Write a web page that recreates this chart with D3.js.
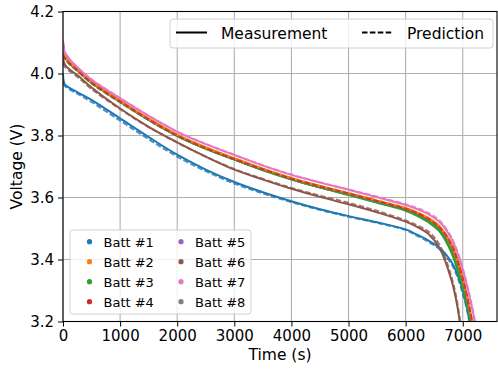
<!DOCTYPE html>
<html>
<head>
<meta charset="utf-8">
<script src="https://cdn.jsdelivr.net/npm/d3@7"></script>
<style>
  body { margin: 0; background: #fff; }
  svg { font-family: "DejaVu Sans", sans-serif; }
</style>
</head>
<body>
<div id="chart"></div>
<script>
'use strict'

/****** DATA ******/

const times = [0, 30, 100, 250, 500, 1000, 1500, 2000, 2500, 3000, 3500, 4000, 4500,
               5000, 5500, 6000, 6200, 6400, 6600, 6800, 6900, 7000, 7100, 7200, 7300]

const battLabels = ['Batt #1', 'Batt #2', 'Batt #3', 'Batt #4', 'Batt #5', 'Batt #6', 'Batt #7', 'Batt #8']
const battColors = ['#1f77b4', '#ff7f0e', '#2ca02c', '#d62728', '#9467bd', '#8c564b', '#e377c2', '#7f7f7f']

const xTicks = [0, 1000, 2000, 3000, 4000, 5000, 6000, 7000]
const yTicks = [3.2, 3.4, 3.6, 3.8, 4.0, 4.2]

// measured voltage (V)
const batt1Meas = [4.00, 3.965, 3.955, 3.94, 3.915, 3.855, 3.795, 3.738, 3.69, 3.65, 3.617, 3.588, 3.562, 3.54, 3.52, 3.497, 3.48, 3.461, 3.437, 3.393, 3.355, 3.30, 3.225, 3.10, 2.95]
const batt2Meas = [4.11, 4.06, 4.04, 4.015, 3.975, 3.913, 3.855, 3.803, 3.762, 3.727, 3.693, 3.663, 3.637, 3.614, 3.59, 3.566, 3.552, 3.534, 3.506, 3.452, 3.405, 3.343, 3.262, 3.165, 3.03]
const batt3Meas = [4.10, 4.055, 4.035, 4.01, 3.97, 3.908, 3.85, 3.798, 3.757, 3.722, 3.688, 3.658, 3.632, 3.608, 3.583, 3.557, 3.541, 3.52, 3.489, 3.423, 3.37, 3.305, 3.22, 3.11, 2.95]
const batt4Meas = [4.105, 4.058, 4.038, 4.013, 3.973, 3.911, 3.853, 3.801, 3.76, 3.725, 3.691, 3.661, 3.635, 3.612, 3.588, 3.563, 3.549, 3.53, 3.501, 3.446, 3.398, 3.335, 3.255, 3.155, 3.02]
const batt5Meas = [4.10, 4.056, 4.036, 4.011, 3.971, 3.909, 3.851, 3.799, 3.758, 3.723, 3.689, 3.659, 3.633, 3.61, 3.585, 3.56, 3.545, 3.525, 3.495, 3.435, 3.385, 3.322, 3.24, 3.135, 2.98]
const batt6Meas = [4.05, 4.03, 4.015, 3.995, 3.955, 3.887, 3.828, 3.778, 3.732, 3.69, 3.658, 3.628, 3.602, 3.578, 3.552, 3.522, 3.505, 3.482, 3.435, 3.335, 3.255, 3.13, 3.0, 2.88, 2.76]
const batt7Meas = [4.10, 4.07, 4.05, 4.02, 3.98, 3.92, 3.863, 3.812, 3.772, 3.737, 3.703, 3.673, 3.648, 3.625, 3.601, 3.576, 3.563, 3.546, 3.52, 3.468, 3.425, 3.368, 3.295, 3.21, 3.08]
const batt8Meas = [4.10, 4.056, 4.036, 4.011, 3.971, 3.909, 3.851, 3.799, 3.758, 3.723, 3.689, 3.659, 3.633, 3.61, 3.585, 3.56, 3.545, 3.525, 3.495, 3.435, 3.385, 3.322, 3.24, 3.135, 2.98]

// predicted voltage (V)
const batt1Pred = [3.965, 3.96, 3.95, 3.935, 3.908, 3.848, 3.788, 3.732, 3.685, 3.645, 3.613, 3.585, 3.56, 3.538, 3.518, 3.495, 3.477, 3.457, 3.432, 3.386, 3.347, 3.29, 3.215, 3.09, 2.94]
const batt2Pred = [4.07, 4.055, 4.038, 4.012, 3.972, 3.91, 3.853, 3.802, 3.761, 3.726, 3.693, 3.663, 3.638, 3.615, 3.591, 3.566, 3.551, 3.532, 3.503, 3.447, 3.398, 3.335, 3.255, 3.155, 3.02]
const batt3Pred = [4.06, 4.05, 4.033, 4.008, 3.968, 3.907, 3.85, 3.799, 3.758, 3.723, 3.69, 3.66, 3.634, 3.611, 3.586, 3.56, 3.545, 3.525, 3.495, 3.432, 3.38, 3.317, 3.235, 3.125, 2.97]
const batt4Pred = [4.06, 4.05, 4.036, 4.011, 3.971, 3.91, 3.852, 3.8, 3.759, 3.724, 3.691, 3.661, 3.636, 3.613, 3.589, 3.564, 3.55, 3.531, 3.503, 3.45, 3.402, 3.34, 3.26, 3.165, 3.03]
const batt5Pred = [4.06, 4.05, 4.034, 4.009, 3.969, 3.908, 3.85, 3.799, 3.758, 3.723, 3.69, 3.66, 3.634, 3.611, 3.586, 3.561, 3.546, 3.526, 3.496, 3.436, 3.386, 3.323, 3.242, 3.138, 2.98]
const batt6Pred = [4.03, 4.022, 4.01, 3.99, 3.95, 3.885, 3.827, 3.777, 3.732, 3.692, 3.66, 3.631, 3.606, 3.583, 3.557, 3.526, 3.51, 3.49, 3.445, 3.345, 3.265, 3.14, 3.01, 2.89, 2.77]
const batt7Pred = [4.075, 4.065, 4.048, 4.02, 3.981, 3.921, 3.864, 3.813, 3.773, 3.738, 3.704, 3.674, 3.649, 3.626, 3.603, 3.578, 3.566, 3.55, 3.525, 3.473, 3.43, 3.373, 3.3, 3.215, 3.09]
const batt8Pred = [4.06, 4.05, 4.034, 4.009, 3.969, 3.908, 3.85, 3.799, 3.758, 3.723, 3.69, 3.66, 3.634, 3.611, 3.586, 3.561, 3.546, 3.526, 3.496, 3.436, 3.386, 3.323, 3.242, 3.138, 2.98]

const measured = [batt1Meas, batt2Meas, batt3Meas, batt4Meas, batt5Meas, batt6Meas, batt7Meas, batt8Meas]
const predicted = [batt1Pred, batt2Pred, batt3Pred, batt4Pred, batt5Pred, batt6Pred, batt7Pred, batt8Pred]

// layering: purple & gray sit under the cluster, red dashes over orange
const measOrder = [4, 7, 3, 0, 2, 1, 5, 6]
const predOrder = [4, 7, 0, 2, 1, 3, 5, 6]


/****** CHART ******/

const W = 498, H = 369
const margin = {top: 11.5, right: 1, bottom: 47.5, left: 63}
const FONT = 15.5

const x = d3.scaleLinear()
  .domain([0, 7600])
  .range([margin.left, W - margin.right])
const y = d3.scaleLinear()
  .domain([3.2, 4.2])
  .range([H - margin.bottom, margin.top])

const svg = d3.select('#chart').append('svg')
  .attr('width', W)
  .attr('height', H)

svg.append('defs').append('clipPath')
  .attr('id', 'plot-clip')
  .append('rect')
    .attr('x', x.range()[0])
    .attr('y', y.range()[1])
    .attr('width', x.range()[1] - x.range()[0])
    .attr('height', y.range()[0] - y.range()[1])

// grid
const grid = svg.append('g')
  .attr('stroke', '#b0b0b0')
  .attr('stroke-width', 1.1)
grid.selectAll('.vgrid')
  .data(xTicks)
  .join('line')
    .attr('class', 'vgrid')
    .attr('x1', d => x(d)).attr('x2', d => x(d))
    .attr('y1', y.range()[0]).attr('y2', y.range()[1])
grid.selectAll('.hgrid')
  .data(yTicks)
  .join('line')
    .attr('class', 'hgrid')
    .attr('y1', d => y(d)).attr('y2', d => y(d))
    .attr('x1', x.range()[0]).attr('x2', x.range()[1])

// curves
const line = d3.line()
  .x((d, i) => x(times[i]))
  .y(d => y(d))
  .curve(d3.curveCatmullRom.alpha(0.5))

const curves = svg.append('g')
  .attr('clip-path', 'url(#plot-clip)')
  .attr('fill', 'none')

curves.selectAll('.meas')
  .data(measOrder)
  .join('path')
    .attr('class', 'meas')
    .attr('stroke', i => battColors[i])
    .attr('stroke-width', 2)
    .attr('d', i => line(measured[i]))

curves.selectAll('.pred')
  .data(predOrder)
  .join('path')
    .attr('class', 'pred')
    .attr('stroke', i => battColors[i])
    .attr('stroke-opacity', 0.8)
    .attr('stroke-width', 2)
    .attr('stroke-dasharray', '5.5,2.4')
    .attr('d', i => line(predicted[i]))

// axes
const xAxis = svg.append('g')
  .attr('transform', `translate(0,${y.range()[0]})`)
  .call(d3.axisBottom(x).tickValues(xTicks).tickFormat(d3.format('d')).tickSize(5).tickPadding(4).tickSizeOuter(0))
const yAxis = svg.append('g')
  .attr('transform', `translate(${x.range()[0]},0)`)
  .call(d3.axisLeft(y).tickValues(yTicks).tickFormat(d3.format('.1f')).tickSize(5).tickPadding(4).tickSizeOuter(0))

for (const ax of [xAxis, yAxis]) {
  ax.selectAll('text')
    .attr('font-family', '"DejaVu Sans", sans-serif')
    .attr('font-size', FONT - 0.5)
    .attr('fill', '#000')
  ax.selectAll('line').attr('stroke', '#000').attr('stroke-width', 1)
  ax.select('.domain').remove()
}

// frame
svg.append('rect')
  .attr('x', x.range()[0])
  .attr('y', y.range()[1])
  .attr('width', x.range()[1] - x.range()[0])
  .attr('height', y.range()[0] - y.range()[1])
  .attr('fill', 'none')
  .attr('stroke', '#000')
  .attr('stroke-width', 1.1)

// axis labels
svg.append('text')
  .attr('x', (x.range()[0] + x.range()[1]) / 2)
  .attr('y', 360)
  .attr('text-anchor', 'middle')
  .attr('font-size', FONT)
  .text('Time (s)')

svg.append('text')
  .attr('transform', `translate(22,${(y.range()[0] + y.range()[1]) / 2}) rotate(-90)`)
  .attr('text-anchor', 'middle')
  .attr('font-size', FONT)
  .text('Voltage (V)')

// legend: line styles
const styleLegend = svg.append('g')
styleLegend.append('rect')
  .attr('x', 170).attr('y', 19)
  .attr('width', 323).attr('height', 29)
  .attr('rx', 3)
  .attr('fill', '#fff').attr('fill-opacity', 0.8)
  .attr('stroke', '#d0d0d0')

const styleItems = [
  {label: 'Measurement', dash: null, x0: 176, tx: 221},
  {label: 'Prediction', dash: '5.5,2.4', x0: 362, tx: 407}
]
styleLegend.selectAll('.style-line')
  .data(styleItems)
  .join('line')
    .attr('class', 'style-line')
    .attr('x1', d => d.x0).attr('x2', d => d.x0 + 31)
    .attr('y1', 32.5).attr('y2', 32.5)
    .attr('stroke', '#000')
    .attr('stroke-width', 2)
    .attr('stroke-dasharray', d => d.dash)
styleLegend.selectAll('.style-text')
  .data(styleItems)
  .join('text')
    .attr('class', 'style-text')
    .attr('x', d => d.tx)
    .attr('y', 38.5)
    .attr('font-size', FONT)
    .text(d => d.label)

// legend: batteries
const battLegend = svg.append('g')
battLegend.append('rect')
  .attr('x', 70).attr('y', 230)
  .attr('width', 181).attr('height', 84)
  .attr('rx', 3)
  .attr('fill', '#fff').attr('fill-opacity', 0.8)
  .attr('stroke', '#d0d0d0')

const item = battLegend.selectAll('.batt')
  .data(battLabels)
  .join('g')
    .attr('class', 'batt')
    .attr('transform', (d, i) => `translate(${i < 4 ? 89.5 : 181},${241.7 + (i % 4) * 20})`)
item.append('circle')
  .attr('r', 2.6)
  .attr('fill', (d, i) => battColors[i])
item.append('text')
  .attr('x', 14)
  .attr('y', 4.8)
  .attr('font-size', 13)
  .text(d => d)
</script>
</body>
</html>
